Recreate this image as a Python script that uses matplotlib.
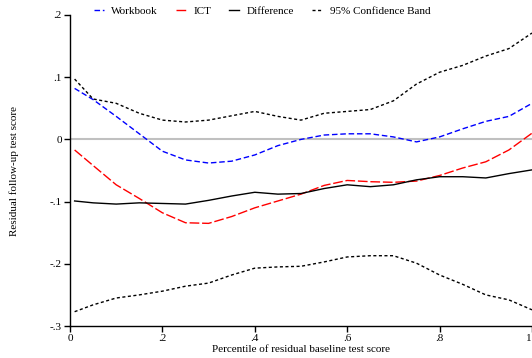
import matplotlib
matplotlib.use("Agg")
import matplotlib.pyplot as plt

plt.rcParams["font.family"] = ["Liberation Serif", "DejaVu Serif"]
plt.rcParams["font.size"] = 8

# percentile grid and smoothed residuals read along it
pct = [0.01, 0.05, 0.10, 0.15, 0.20, 0.25, 0.30, 0.35, 0.40, 0.45, 0.50,
       0.55, 0.60, 0.65, 0.70, 0.75, 0.80, 0.85, 0.90, 0.95, 1.00]

workbook = [0.082, 0.064, 0.037, 0.009, -0.019, -0.033, -0.038, -0.035, -0.025, -0.010, 0.000,
            0.007, 0.009, 0.009, 0.004, -0.004, 0.004, 0.017, 0.029, 0.037, 0.058]
ict = [-0.017, -0.042, -0.073, -0.095, -0.118, -0.134, -0.135, -0.124, -0.110, -0.099, -0.088,
       -0.074, -0.066, -0.068, -0.069, -0.067, -0.058, -0.046, -0.036, -0.017, 0.010]
difference = [-0.099, -0.102, -0.104, -0.102, -0.103, -0.104, -0.098, -0.091, -0.085, -0.088, -0.087,
              -0.079, -0.073, -0.076, -0.073, -0.065, -0.060, -0.060, -0.062, -0.055, -0.049]
band_upper = [0.097, 0.065, 0.058, 0.042, 0.031, 0.028, 0.031, 0.038, 0.045, 0.037, 0.031,
              0.042, 0.045, 0.048, 0.062, 0.089, 0.108, 0.119, 0.134, 0.146, 0.171]
band_lower = [-0.277, -0.266, -0.255, -0.250, -0.244, -0.236, -0.231, -0.218, -0.207, -0.205, -0.204,
              -0.197, -0.189, -0.187, -0.187, -0.199, -0.218, -0.233, -0.250, -0.258, -0.274]

xticks = [0, 0.2, 0.4, 0.6, 0.8, 1.0]
xtick_labels = ["0", ".2", ".4", ".6", ".8", "1"]
yticks = [-0.3, -0.2, -0.1, 0.0, 0.1, 0.2]
ytick_labels = ["-.3", "-.2", "-.1", "0", ".1", ".2"]

fig = plt.figure(figsize=(5.32, 3.58), dpi=100)
ax = fig.add_axes([70 / 532, 32 / 358, 462 / 532, 311 / 358])

ax.axhline(0, color="#c0c0c0", lw=1.5, zorder=1)

ax.plot(pct, workbook, color="blue", lw=1, dashes=(4, 2), label="Workbook")
ax.plot(pct, ict, color="red", lw=1, dashes=(7, 2), label="ICT")
ax.plot(pct, difference, color="black", lw=1, label="Difference")
ax.plot(pct, band_upper, color="black", lw=1, dashes=(2.2, 1.8), label="95% Confidence Band")
ax.plot(pct, band_lower, color="black", lw=1, dashes=(2.2, 1.8))

ax.set_xlim(0, 1)
ax.set_ylim(-0.3, 0.2)
ax.set_xticks(xticks)
ax.set_xticklabels(xtick_labels)
ax.set_yticks(yticks)
ax.set_yticklabels(ytick_labels)
ax.tick_params(direction="out", length=4, width=1, pad=2, labelsize=8)
# last tick sits on the figure edge, keep its label inside
ax.get_xticklabels()[-1].set_horizontalalignment("right")

for side in ["top", "right"]:
    ax.spines[side].set_visible(False)
for side in ["left", "bottom"]:
    ax.spines[side].set_linewidth(1)

ax.set_xlabel("Percentile of residual baseline test score", labelpad=1)
ax.set_ylabel("Residual follow-up test score", labelpad=22)

handles, labels = ax.get_legend_handles_labels()
fig.legend(handles, labels, loc="center", ncol=4, frameon=False,
           bbox_to_anchor=(262 / 532, 1 - 11 / 358),
           handlelength=0.9, handletextpad=0.7, columnspacing=1.6,
           borderpad=0, borderaxespad=0)

fig.savefig("out.png", dpi=100)
